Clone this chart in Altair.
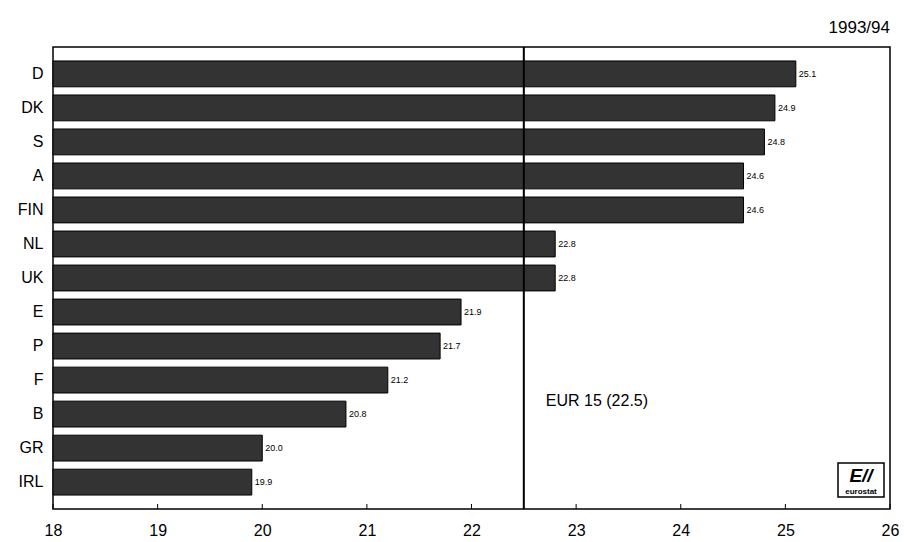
import altair as alt
import pandas as pd

countries = ["D", "DK", "S", "A", "FIN", "NL", "UK", "E", "P", "F", "B", "GR", "IRL"]
values = [25.1, 24.9, 24.8, 24.6, 24.6, 22.8, 22.8, 21.9, 21.7, 21.2, 20.8, 20.0, 19.9]
eur_value = 22.5
eur_label = "EUR 15 (22.5)"
x_ticks = [18, 19, 20, 21, 22, 23, 24, 25, 26]
period = "1993/94"

df = pd.DataFrame({"country": countries, "value": values})
ticks_df = pd.DataFrame({"t": x_ticks})

W, H = 837, 462
FONT = "Liberation Sans"

xscale = alt.Scale(domain=[18, 26], nice=False, zero=False)
yscale = alt.Scale(domain=countries, paddingInner=0.24, paddingOuter=0.41)

base = alt.Chart(df)

bars = base.mark_bar(fill="#333333", stroke="#000000", strokeWidth=1).encode(
    y=alt.Y("country:N", scale=yscale, sort=countries,
            axis=alt.Axis(title=None, labelFontSize=16, labelFont=FONT, labelColor="#000",
                          ticks=False, domain=False, labelPadding=10)),
    x=alt.X("value:Q", scale=xscale,
            axis=alt.Axis(title=None, values=x_ticks, labelFontSize=16, labelFont=FONT,
                          labelColor="#000", ticks=False, domain=False, grid=False,
                          labelPadding=13, format="d", labelFlush=False,
                          labelOverlap=False)),
    x2=alt.datum(18),
)

labels = base.mark_text(align="left", baseline="middle", dx=3, fontSize=9, font=FONT,
                        color="#000").encode(
    y=alt.Y("country:N", scale=yscale, sort=countries),
    x=alt.X("value:Q", scale=xscale),
    text=alt.Text("value:Q", format=".1f"),
)

eur_rule = alt.Chart(pd.DataFrame({"v": [eur_value]})).mark_rule(
    color="#000", strokeWidth=2).encode(x=alt.X("v:Q", scale=xscale))

eur_text = alt.Chart(pd.DataFrame({"v": [eur_value], "c": ["B"], "l": [eur_label]})).mark_text(
    align="left", baseline="middle", dx=22, dy=-13, fontSize=16, font=FONT, color="#000"
).encode(x=alt.X("v:Q", scale=xscale), y=alt.Y("c:N", scale=yscale, sort=countries),
         text="l:N")

tick_marks = alt.Chart(ticks_df).mark_rule(color="#000", strokeWidth=1).encode(
    x=alt.X("t:Q", scale=xscale), y=alt.value(H - 5), y2=alt.value(H))

logo_box = alt.Chart(pd.DataFrame({"a": [0]})).mark_rect(
    fill="white", stroke="#000", strokeWidth=1.5).encode(
    x=alt.value(W - 52), x2=alt.value(W - 6), y=alt.value(H - 46), y2=alt.value(H - 12))

logo_mark = alt.Chart(pd.DataFrame({"a": ["E//"]})).mark_text(
    fontSize=19, fontWeight="bold", fontStyle="italic", font=FONT, color="#000",
    align="center", baseline="middle").encode(
    x=alt.value(W - 29), y=alt.value(H - 33), text="a:N")

logo_text = alt.Chart(pd.DataFrame({"a": ["eurostat"]})).mark_text(
    fontSize=8, fontWeight="bold", font=FONT, color="#000",
    align="center", baseline="middle").encode(
    x=alt.value(W - 29), y=alt.value(H - 17), text="a:N")

chart = alt.layer(bars, labels, eur_rule, eur_text, tick_marks, logo_box, logo_mark, logo_text).properties(
    width=W, height=H,
    title=alt.TitleParams(period, anchor="end", frame="group", fontSize=17, font=FONT,
                          fontWeight="normal", color="#000", offset=9),
    autosize=alt.AutoSizeParams(type="none"),
    padding={"left": 45, "top": 39, "right": 10, "bottom": 32},
).configure(background="white").configure_view(stroke="#000", strokeWidth=1.5)

chart.save("out.html", embed_options={"renderer": "svg", "actions": False})
